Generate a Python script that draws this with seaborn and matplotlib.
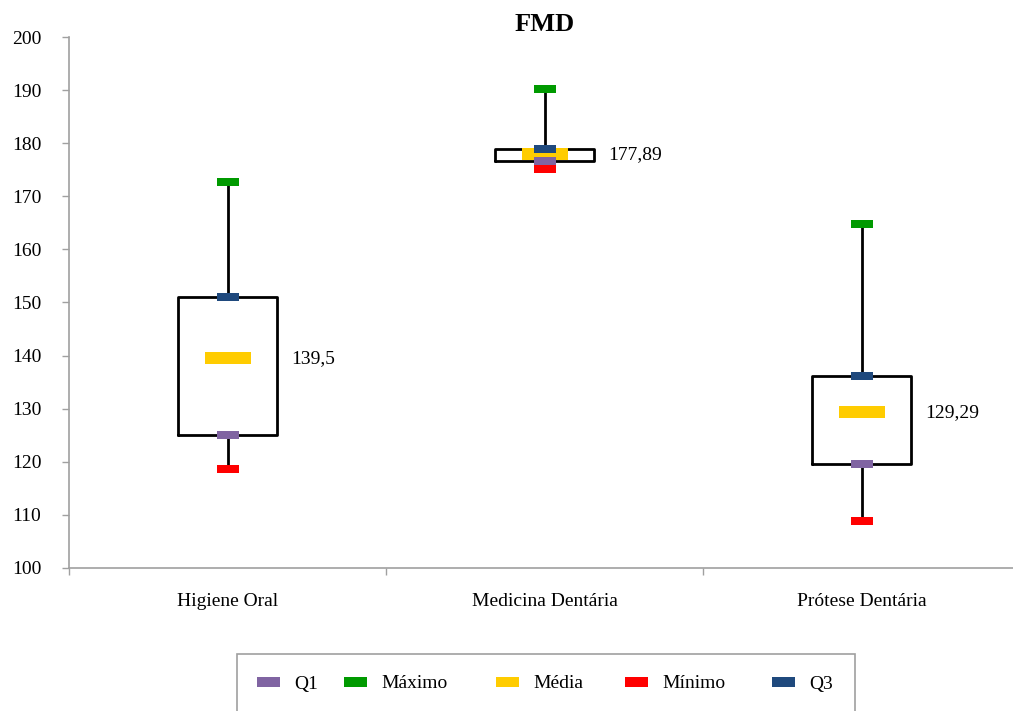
import numpy as np
import pandas as pd
import matplotlib
matplotlib.use("Agg")
import matplotlib.pyplot as plt
from matplotlib.patches import Patch, Rectangle
from matplotlib.path import Path
import seaborn as sns

# ---- data ----
categories = ["Higiene Oral", "Medicina Dentária", "Prótese Dentária"]
minimo = [118.7, 175.1, 108.8]
q1 = [125.0, 176.6, 119.6]
media = [139.5, 177.89, 129.29]
q3 = [151.0, 179.0, 136.2]
maximo = [172.7, 190.2, 164.7]
media_labels = ["139,5", "177,89", "129,29"]

colors = {"Q1": "#8064A2", "Máximo": "#009A00", "Média": "#FFCC00",
          "Mínimo": "#FF0000", "Q3": "#1F497D"}

sns.set_theme(style="white")
plt.rcParams["font.family"] = ["Liberation Serif", "DejaVu Serif"]
plt.rcParams["text.color"] = "black"
plt.rcParams["axes.labelcolor"] = "black"
plt.rcParams["xtick.labelcolor"] = "black"
plt.rcParams["ytick.labelcolor"] = "black"

fig = plt.figure(figsize=(10.13, 7.11), dpi=100)
ax = fig.add_axes([69 / 1013, 143 / 711, 951 / 1013, 531 / 711])

# boxes from five-number data (whiskers to min/max)
rows = []
for i, c in enumerate(categories):
    for v in (minimo[i], q1[i], media[i], q3[i], maximo[i]):
        rows.append({"cat": c, "val": v})
df = pd.DataFrame(rows)
sns.boxplot(data=df, x="cat", y="val", order=categories, whis=np.inf,
            width=0.315, fill=False, color="black", linecolor="black", linewidth=2,
            showcaps=False, showfliers=False,
            medianprops={"visible": False}, ax=ax)

# rectangular markers
small = Path([(-1, -0.35), (1, -0.35), (1, 0.35), (-1, 0.35), (-1, -0.35)],
             [Path.MOVETO, Path.LINETO, Path.LINETO, Path.LINETO, Path.CLOSEPOLY])
wide = Path([(-1, -0.26), (1, -0.26), (1, 0.26), (-1, 0.26), (-1, -0.26)],
            [Path.MOVETO, Path.LINETO, Path.LINETO, Path.LINETO, Path.CLOSEPOLY])
w_small = 23 * 0.72
w_wide = 46 * 0.72
xs = list(range(len(categories)))
series = [("Média", media, wide, w_wide), ("Q1", q1, small, w_small),
          ("Q3", q3, small, w_small), ("Mínimo", minimo, small, w_small),
          ("Máximo", maximo, small, w_small)]
for name, vals, mk, w in series:
    sns.scatterplot(x=xs, y=vals, marker=mk, s=w ** 2, color=colors[name],
                    linewidth=0, ax=ax, zorder=5)

for i, lab in enumerate(media_labels):
    ax.text(i + 0.2, media[i], lab, va="center", ha="left", fontsize=14,
            color="black")

ax.set_xlim(-0.5, 2.5)
ax.set_ylim(100, 200)
ax.set_yticks(np.arange(100, 201, 10))
ax.set_xticks(xs)
ax.set_xticklabels(categories)
ax.set_xticks([-0.5, 0.5, 1.5], minor=True)
ax.set_xlabel("")
ax.set_ylabel("")
ax.tick_params(axis="x", which="major", length=0, pad=18, labelsize=14,
               labelcolor="black")
ax.tick_params(axis="x", which="minor", length=5, width=1, color="#A0A0A0",
               direction="out", bottom=True)
ax.tick_params(axis="y", length=5, width=1, color="#A0A0A0", direction="out",
               left=True, pad=15, labelsize=14, labelcolor="black")
for s in ["top", "right"]:
    ax.spines[s].set_visible(False)
for s in ["left", "bottom"]:
    ax.spines[s].set_color("#A0A0A0")
    ax.spines[s].set_linewidth(1.2)

ax.set_title("FMD", fontsize=19, fontweight="bold", pad=4, color="black")

# legend: frame box + one entry per column (Excel-like spacing)
W, H = 1013, 711
fig.patches.append(Rectangle((237 / W, -0.05), (855 - 237) / W, (711 - 654) / H + 0.05,
                             transform=fig.transFigure, fill=False,
                             edgecolor="#A0A0A0", linewidth=1.2))
order = ["Q1", "Máximo", "Média", "Mínimo", "Q3"]
leg_x = [257, 344, 496, 625, 772]
for k, xp in zip(order, leg_x):
    h = Patch(facecolor=colors[k], edgecolor="none", label=k)
    fig.legend(handles=[h], loc="center left", bbox_to_anchor=(xp / W, 1 - 684 / H),
               fontsize=14, frameon=False, borderpad=0, borderaxespad=0,
               handlelength=1.18, handleheight=0.41, handletextpad=0.72,
               labelcolor="black")

fig.savefig("out.png", dpi=100)
